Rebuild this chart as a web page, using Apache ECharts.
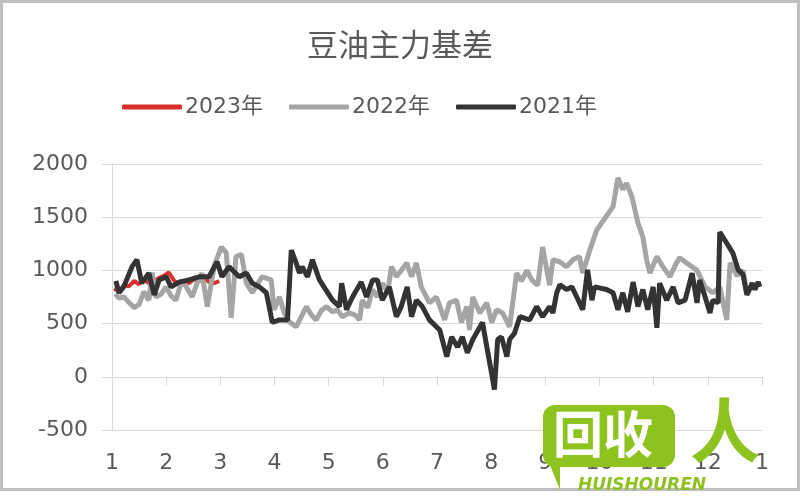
<!DOCTYPE html>
<html>
<head>
<meta charset="utf-8">
<script src="https://cdn.jsdelivr.net/npm/echarts@6/dist/echarts.min.js"></script>
<style>html,body{margin:0;padding:0;background:#fff}#c{width:800px;height:500px}</style>
</head>
<body>
<div id="c"></div>
<script>
// month tick labels (positions 1..13 = month starts, last = next January)
const monthLabels = ['1','2','3','4','5','6','7','8','9','10','11','12','1'];
const seriesNames = ['2023年','2022年','2021年'];

// 2023 — x in month units, values
const x2023 = [1.04,1.13,1.22,1.31,1.41,1.50,1.59,1.68,1.78,1.87,1.96,2.05,2.15,2.24,2.33,2.42,2.52,2.61,2.70,2.79,2.89,2.98];
const v2023 = [830,800,860,850,900,870,920,880,900,930,950,980,900,870,900,880,920,900,930,890,880,900];

// 2022
const x2022 = [1.06,1.13,1.22,1.31,1.41,1.50,1.59,1.68,1.74,1.81,1.91,2.00,2.09,2.18,2.29,2.39,2.48,2.57,2.66,2.76,2.89,3.02,3.11,3.20,3.29,3.39,3.48,3.59,3.77,3.94,3.99,4.09,4.18,4.27,4.40,4.49,4.59,4.68,4.77,4.86,4.96,5.07,5.16,5.25,5.38,5.49,5.57,5.62,5.72,5.81,5.90,5.99,6.09,6.16,6.25,6.34,6.44,6.53,6.62,6.71,6.86,6.99,7.14,7.23,7.36,7.45,7.55,7.60,7.66,7.79,7.92,8.01,8.10,8.21,8.34,8.47,8.56,8.66,8.75,8.86,8.95,9.08,9.14,9.27,9.39,9.51,9.63,9.69,9.82,9.95,10.10,10.25,10.34,10.43,10.50,10.60,10.71,10.80,10.87,10.93,11.06,11.17,11.30,11.40,11.48,11.61,11.80,11.95,12.09,12.22,12.35,12.41,12.54,12.65,12.72,12.82];
const v2022 = [780,740,750,700,650,680,800,720,980,750,780,845,760,720,910,830,750,880,975,660,1050,1220,1165,555,1130,1150,880,790,940,910,630,750,600,520,470,560,660,580,535,620,660,610,630,565,600,580,535,720,650,820,750,880,800,1035,940,1000,1070,940,1070,845,695,750,535,695,720,510,660,440,750,600,695,510,630,600,470,975,900,1000,910,860,1220,860,1100,1080,1035,1100,1130,975,1190,1380,1490,1600,1870,1760,1820,1690,1445,1315,1100,975,1130,1035,940,1050,1120,1070,1000,845,790,845,535,1070,950,1000,790,850];

// 2021
const x2021 = [1.07,1.13,1.22,1.37,1.46,1.55,1.68,1.78,1.87,2.00,2.09,2.24,2.42,2.61,2.79,2.94,3.03,3.16,3.35,3.48,3.59,3.72,3.85,3.96,4.09,4.24,4.31,4.40,4.46,4.51,4.61,4.70,4.83,5.07,5.20,5.24,5.33,5.44,5.60,5.70,5.81,5.90,5.99,6.12,6.25,6.34,6.45,6.53,6.62,6.73,6.86,7.05,7.18,7.27,7.38,7.47,7.56,7.66,7.84,7.92,8.03,8.06,8.12,8.19,8.29,8.34,8.43,8.53,8.71,8.84,8.95,9.08,9.14,9.21,9.27,9.39,9.49,9.58,9.69,9.78,9.86,9.91,10.13,10.25,10.34,10.43,10.52,10.62,10.71,10.80,10.89,10.99,11.06,11.11,11.24,11.36,11.45,11.58,11.71,11.80,11.85,11.95,12.04,12.09,12.19,12.22,12.35,12.46,12.56,12.65,12.72,12.82,12.87,12.93,12.96];
const v2021 = [900,790,850,1035,1100,880,975,770,910,940,845,890,910,940,940,1080,940,1035,940,975,880,845,790,510,535,535,1190,1070,975,1035,940,1100,910,720,660,880,630,750,890,750,910,910,720,845,565,660,845,565,720,660,535,440,190,375,280,375,225,350,510,280,-30,-120,350,375,190,350,410,565,535,660,565,660,600,790,865,820,845,750,630,1005,720,845,820,790,630,790,610,890,660,820,630,845,460,880,720,845,695,720,975,695,910,750,600,720,695,1360,1255,1165,1005,960,770,880,820,890,845];

const zip = (xs, vs) => xs.map((x, i) => [x, vs[i]]);

const txt = '#595959';
const gridC = '#d9d9d9';
const fontFam = 'DejaVu Sans, Noto Sans CJK SC, sans-serif';

const chart = echarts.init(document.getElementById('c'), null, {renderer: 'canvas'});
chart.setOption({
  animation: false,
  backgroundColor: '#fff',
  title: {
    text: '豆油主力基差', left: 'center', top: 24,
    textStyle: {fontFamily: 'Noto Sans CJK SC', fontSize: 31, fontWeight: 'normal', color: txt}
  },
  legend: {
    left: 122, top: 96, padding: 0, itemWidth: 60, itemHeight: 5, itemGap: 26, icon: 'roundRect',
    textStyle: {fontFamily: fontFam, fontSize: 22, color: txt, padding: [0,0,0,-2]},
    data: seriesNames
  },
  grid: {left: 112, right: 38, top: 164, bottom: 70},
  xAxis: [{
    type: 'value', min: 1, max: 13, interval: 1,
    axisLine: {show: true, onZero: true, lineStyle: {color: gridC, width: 1}},
    axisTick: {show: true, length: 9, lineStyle: {color: gridC}},
    axisLabel: {show: false},
    splitLine: {show: false}
  }, {
    type: 'value', min: 1, max: 13, interval: 1, position: 'bottom',
    axisLine: {show: false, onZero: false},
    axisTick: {show: false},
    axisLabel: {show: true, margin: 22, fontFamily: fontFam, fontSize: 22, color: txt,
      formatter: v => monthLabels[Math.round(v) - 1]},
    splitLine: {show: false}
  }],
  yAxis: {
    type: 'value', min: -500, max: 2000, interval: 500,
    axisLine: {show: true, lineStyle: {color: gridC}},
    axisTick: {show: true, length: 10, lineStyle: {color: gridC}},
    axisLabel: {margin: 24, fontFamily: fontFam, fontSize: 22, color: txt, formatter: v => String(v)},
    splitLine: {show: true, lineStyle: {color: gridC, width: 1}}
  },
  series: [
    {name: seriesNames[0], type: 'line', xAxisIndex: 0, data: zip(x2023, v2023), showSymbol: false,
     itemStyle: {color: '#d9302b'}, lineStyle: {color: '#d9302b', width: 4}},
    {name: seriesNames[1], type: 'line', xAxisIndex: 0, data: zip(x2022, v2022), showSymbol: false,
     itemStyle: {color: '#a5a5a5'}, lineStyle: {color: '#a5a5a5', width: 5}},
    {name: seriesNames[2], type: 'line', xAxisIndex: 0, data: zip(x2021, v2021), showSymbol: false,
     itemStyle: {color: '#333333'}, lineStyle: {color: '#333333', width: 5}}
  ],
  graphic: [
    {type: 'rect', shape: {x: 1.5, y: 1.5, width: 797, height: 488}, style: {fill: 'none', stroke: '#bfbfbf', lineWidth: 3}, z: 100},
    {type: 'polygon', shape: {points: [[548,460],[560,460],[560,490]]}, style: {fill: '#8dc21f'}, z: 110},
    {type: 'rect', shape: {x: 543, y: 405, width: 132, height: 62, r: 12}, style: {fill: '#8dc21f'}, z: 110},
    {type: 'text', left: 553, top: 409, style: {text: '回收', fill: '#fff', font: 'bold 50px Noto Sans CJK SC'}, z: 111},
    {type: 'text', left: 578, top: 477, style: {text: 'HUISHOUREN', fill: '#8dc21f', font: 'italic bold 17px DejaVu Sans'}, z: 111},
    {type: 'text', left: 690, top: 395, style: {text: '人', fill: '#8dc21f', font: 'bold 70px Noto Sans CJK SC'}, z: 111}
  ]
});
</script>
</body>
</html>
